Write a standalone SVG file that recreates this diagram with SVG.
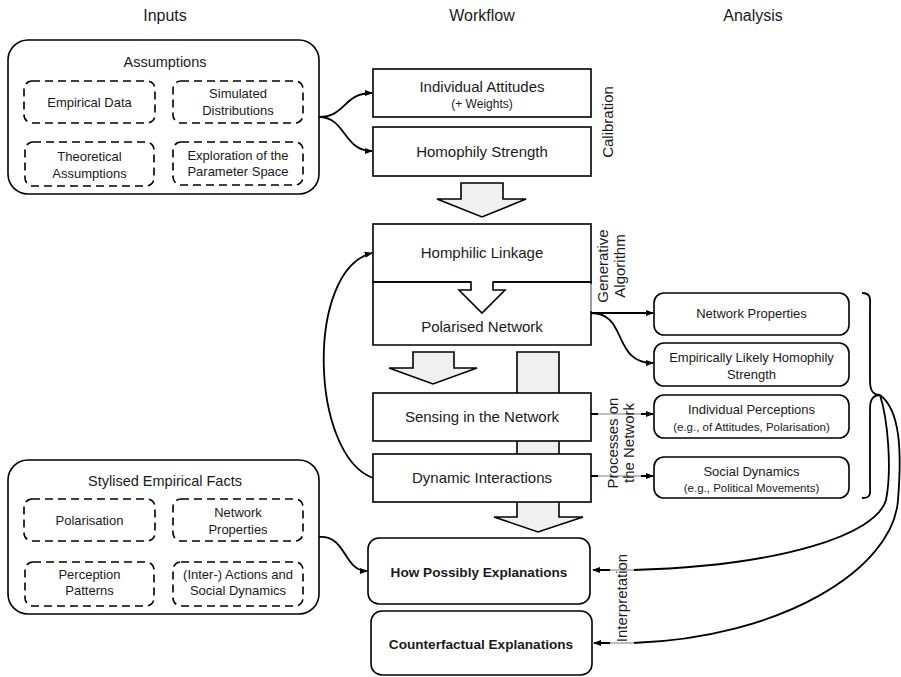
<svg xmlns="http://www.w3.org/2000/svg" width="901" height="677" viewBox="0 0 901 677">
<defs>
<marker id="ah" viewBox="0 0 10 10" refX="9" refY="5" markerWidth="8" markerHeight="8" orient="auto" markerUnits="userSpaceOnUse"><path d="M0,1 L10,5 L0,9 z" fill="#000"/></marker>
<style>
text{font-family:"Liberation Sans",Arial,sans-serif;fill:#1a1a1a;text-anchor:middle}
.hdr{font-size:16px}
.wf{font-size:15px}
.sm{font-size:12px}
.an{font-size:13px}
.an2{font-size:11.5px}
.ttl{font-size:14.5px}
.ds{font-size:13px}
.bd{font-size:13.6px;font-weight:bold}
.vl{font-size:15px}
.box{fill:#fff;stroke:#000;stroke-width:1.6}
.dash{fill:#fff;stroke:#000;stroke-width:1.6;stroke-dasharray:8 5}
.blk{fill:#f0f0f0;stroke:#000;stroke-width:1.6;stroke-linejoin:miter}
.con{fill:none;stroke:#000;stroke-width:1.8}
.gr{fill:none;stroke:#bdbdbd;stroke-width:2}
</style>
</defs>
<rect width="901" height="677" fill="#fff"/>

<g id="headers">
<text class="hdr" x="165" y="21">Inputs</text>
<text class="hdr" x="482" y="21">Workflow</text>
<text class="hdr" x="753" y="21">Analysis</text>
</g>

<g id="assumptions">
<rect class="box" x="8" y="40" width="311" height="154" rx="20"/>
<text class="ttl" x="165" y="67">Assumptions</text>
<rect class="dash" x="24" y="81" width="131" height="42" rx="8"/>
<text class="ds" x="89.5" y="106.5">Empirical Data</text>
<rect class="dash" x="173" y="81" width="130" height="42" rx="8"/>
<text class="ds" x="238" y="97.5">Simulated</text>
<text class="ds" x="238" y="115">Distributions</text>
<rect class="dash" x="25" y="142" width="129" height="44" rx="8"/>
<text class="ds" x="89.5" y="160.5">Theoretical</text>
<text class="ds" x="89.5" y="177.5">Assumptions</text>
<rect class="dash" x="173" y="142" width="130" height="43" rx="8"/>
<text class="ds" x="238" y="159.5">Exploration of the</text>
<text class="ds" x="238" y="175.5">Parameter Space</text>
</g>

<g id="stylised">
<rect class="box" x="8" y="460" width="311" height="154" rx="20"/>
<text class="ttl" x="165" y="486">Stylised Empirical Facts</text>
<rect class="dash" x="24" y="499" width="131" height="42" rx="8"/>
<text class="ds" x="89.5" y="524.5">Polarisation</text>
<rect class="dash" x="173" y="499" width="130" height="42" rx="8"/>
<text class="ds" x="238" y="516.5">Network</text>
<text class="ds" x="238" y="533.5">Properties</text>
<rect class="dash" x="25" y="562" width="129" height="44" rx="8"/>
<text class="ds" x="89.5" y="578.5">Perception</text>
<text class="ds" x="89.5" y="594.5">Patterns</text>
<rect class="dash" x="173" y="562" width="130" height="44" rx="8"/>
<text class="ds" x="238" y="578.5">(Inter-) Actions and</text>
<text class="ds" x="238" y="594.5">Social Dynamics</text>
</g>

<g id="block-arrows">
<path class="blk" d="M461 183 L503 183 L503 199 L526 199 L482 217 L437 199 L461 199 Z"/>
<path class="blk" d="M413 352 L454 352 L454 368 L477 368 L433 384 L389 368 L413 368 Z"/>
<path class="blk" d="M517 352 L559 352 L559 517 L583 517 L538 532 L494 517 L517 517 Z"/>
</g>

<g id="individual-attitudes">
<rect class="box" x="373" y="69" width="218" height="48"/>
<text class="wf" x="482" y="92">Individual Attitudes</text>
<text class="sm" x="482" y="107.5">(+ Weights)</text>
</g>
<g id="homophily-strength">
<rect class="box" x="373" y="127" width="218" height="49"/>
<text class="wf" x="482" y="156.5">Homophily Strength</text>
</g>

<g id="homphilic-linkage">
<rect class="box" x="373" y="224" width="218" height="58"/>
<text class="wf" x="482" y="258">Homphilic Linkage</text>
</g>
<g id="polarised-network">
<path class="box" d="M373 282 L591 282 L591 345 L373 345 Z"/>
<path d="M471 281 L471 290 L459 290 L482 313 L505 290 L493 290 L493 281" fill="#fff" stroke="none"/>
<path d="M373 282 L471 282 L471 290 L459 290 L482 313 L505 290 L493 290 L493 282 L591 282" fill="none" stroke="#000" stroke-width="1.6"/>
<text class="wf" x="482" y="332">Polarised Network</text>
<line x1="591" y1="284" x2="591" y2="311" stroke="#aaa" stroke-width="1.8"/>
</g>

<g id="sensing">
<rect class="box" x="373" y="393" width="218" height="48"/>
<text class="wf" x="482" y="422">Sensing in the Network</text>
</g>
<g id="dynamic-interactions">
<rect class="box" x="373" y="454" width="218" height="48"/>
<text class="wf" x="482" y="483">Dynamic Interactions</text>
</g>

<g id="how-possibly">
<rect class="box" x="368" y="538" width="222" height="66" rx="11"/>
<text class="bd" x="479" y="577">How Possibly Explanations</text>
</g>
<g id="counterfactual">
<rect class="box" x="371" y="611" width="221" height="64" rx="11"/>
<text class="bd" x="481" y="649">Counterfactual Explanations</text>
</g>

<g id="network-properties">
<rect class="box" x="654" y="293" width="195" height="42" rx="10"/>
<text class="an" x="751.5" y="318">Network Properties</text>
</g>
<g id="empirically-likely">
<rect class="box" x="654" y="343" width="195" height="43" rx="10"/>
<text class="an" x="751.5" y="361.5">Empirically Likely Homophily</text>
<text class="an" x="751.5" y="378.5">Strength</text>
</g>
<g id="individual-perceptions">
<rect class="box" x="654" y="395" width="195" height="43" rx="10"/>
<text class="an" x="751.5" y="413.5">Individual Perceptions</text>
<text class="an2" x="751.5" y="431">(e.g., of Attitudes, Polarisation)</text>
</g>
<g id="social-dynamics">
<rect class="box" x="654" y="457" width="195" height="41" rx="10"/>
<text class="an" x="751.5" y="475.5">Social Dynamics</text>
<text class="an2" x="751.5" y="492">(e.g., Political Movements)</text>
</g>

<g id="connectors">
<path class="con" d="M319 117 C346 117, 343 93, 372 93" marker-end="url(#ah)"/>
<path class="con" d="M319 117 C346 117, 343 151, 372 151" marker-end="url(#ah)"/>
<path class="con" d="M591 313 L653 313" marker-end="url(#ah)"/>
<path class="con" d="M591 313 C628 313, 612 363, 653 363" marker-end="url(#ah)"/>
<path class="con" d="M591 414 L653 414" marker-end="url(#ah)"/>
<path class="con" d="M591 476 L653 476" marker-end="url(#ah)"/>
<line class="gr" x1="598" y1="414" x2="641" y2="414"/>
<line class="gr" x1="598" y1="476" x2="641" y2="476"/>
<path class="con" d="M373 478 C310 455, 305 270, 372 253" marker-end="url(#ah)"/>
<path class="con" d="M319 537 C347 535, 343 571, 367 571" marker-end="url(#ah)"/>
<path class="con" d="M862 293 C872 293, 870 300, 870 310 L870 381 C870 392, 874 395, 880 395 C874 395, 870 398, 870 409 L870 483 C870 493, 872 498, 862 498"/>
<path class="con" d="M880 395 C888 420, 892 470, 886 500 C876 535, 780 566, 633 570 L593 570" marker-end="url(#ah)"/>
<path class="con" d="M880 395 C900 410, 902 450, 898 500 C893 570, 780 638, 633 643 L594 643" marker-end="url(#ah)"/>
<line class="gr" x1="610" y1="570" x2="634" y2="570"/>
<line class="gr" x1="610" y1="643" x2="634" y2="643"/>
</g>

<g id="labels">
<text class="vl" transform="translate(608,122) rotate(-90)" dy="0.35em">Calibration</text>
<text class="vl" transform="translate(603,266) rotate(-90)" dy="0.35em">Generative</text>
<text class="vl" transform="translate(620,266) rotate(-90)" dy="0.35em">Algorithm</text>
<text class="vl" transform="translate(613,443) rotate(-90)" dy="0.35em">Processes on</text>
<text class="vl" transform="translate(629,443) rotate(-90)" dy="0.35em">the Network</text>
<text class="vl" transform="translate(622,598) rotate(-90)" dy="0.35em">Interpretation</text>
</g>
</svg>
